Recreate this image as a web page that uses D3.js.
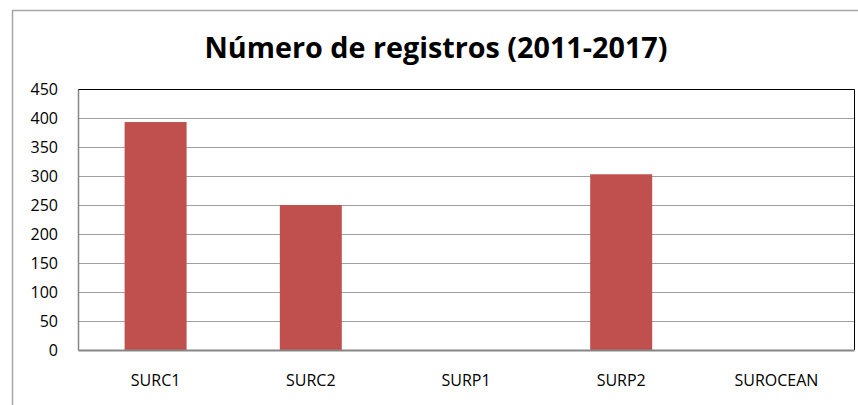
<!DOCTYPE html>
<html><head><meta charset="utf-8">
<script src="https://cdn.jsdelivr.net/npm/d3@7"></script>
<style>body{margin:0;background:#fff}svg{display:block}</style>
</head><body>
<svg id="c" width="858" height="405"></svg>
<script>
const categories = ["SURC1","SURC2","SURP1","SURP2","SUROCEAN"];
const values = [393, 250, 0, 303, 0];
const yTicks = [0,50,100,150,200,250,300,350,400,450];
const title = "Número de registros (2011-2017)";

const svg = d3.select("#c");
const m = {l:78, r:854, t:89, b:350};
const font = "'Open Sans', sans-serif";

svg.append("rect").attr("x",12.5).attr("y",10.5).attr("width",860).attr("height",420)
  .attr("fill","#fff").attr("stroke","#a6a6a6").attr("stroke-width",1.5);

const x = d3.scaleBand().domain(categories).range([m.l,m.r]).paddingInner(0.6).paddingOuter(0.3);
const y = d3.scaleLinear().domain([0,450]).range([m.b,m.t]);

// gridlines
svg.append("g").selectAll("line").data(yTicks.filter(d=>d>0 && d<450)).join("line")
  .attr("x1",m.l).attr("x2",m.r).attr("y1",d=>Math.round(y(d))+0.5).attr("y2",d=>Math.round(y(d))+0.5)
  .attr("stroke","#a0a0a0").attr("stroke-width",1);

// plot border top/right black
svg.append("path").attr("d",`M${m.l},${m.t+0.5}H${m.r+0.5}V${m.b}`)
  .attr("fill","none").attr("stroke","#000").attr("stroke-width",1);

// bars
const bw = 62;
svg.append("g").selectAll("rect").data(values).join("rect")
  .attr("x",(d,i)=>x(categories[i])+x.bandwidth()/2-bw/2)
  .attr("width",bw)
  .attr("y",d=>y(d))
  .attr("height",d=>y(0)-y(d))
  .attr("fill","#c0504d");

// axes
const yAxis = d3.axisLeft(y).tickValues(yTicks).tickSize(0).tickPadding(20);
const gy = svg.append("g").attr("transform",`translate(${m.l},0)`).call(yAxis);
gy.select(".domain").attr("stroke","#868686").attr("stroke-width",1.5);
gy.selectAll("text").attr("font-family",font).attr("font-size",16).attr("fill","#000");

const xAxis = d3.axisBottom(x).tickSize(0).tickPadding(25);
const gx = svg.append("g").attr("transform",`translate(0,${m.b})`).call(xAxis);
gx.select(".domain").attr("stroke","#868686").attr("stroke-width",2);
gx.selectAll("text").attr("font-family",font).attr("font-size",16).attr("fill","#000");

svg.append("text").attr("x",436).attr("y",58).attr("text-anchor","middle")
  .attr("font-family",font).attr("font-weight","bold").attr("font-size",29)
  .attr("textLength",463).attr("lengthAdjust","spacingAndGlyphs").text(title);
</script>
</body></html>
